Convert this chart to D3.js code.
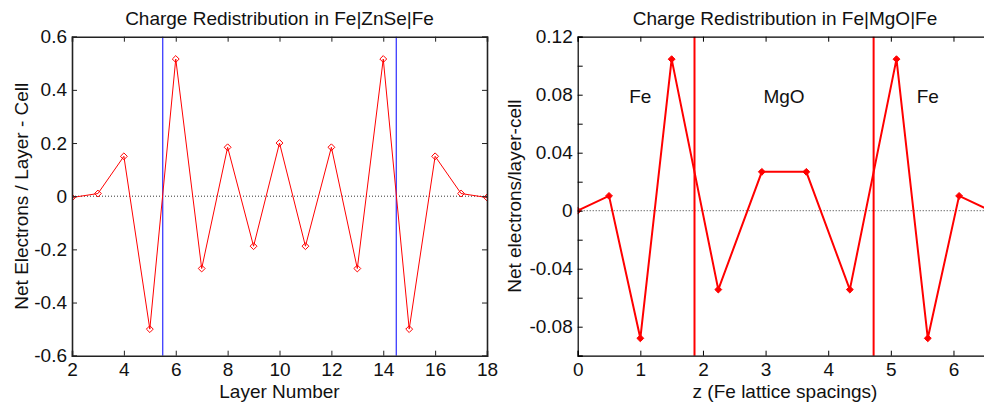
<!DOCTYPE html>
<html>
<head>
<meta charset="utf-8">
<script src="https://cdn.jsdelivr.net/npm/d3@7/dist/d3.min.js"></script>
<style>
  html, body { margin: 0; padding: 0; background: #fff; }
  svg { display: block; font-family: "Liberation Sans", Arial, Helvetica, sans-serif; }
</style>
</head>
<body>
<svg id="chart" width="984" height="406"></svg>
<script>
// Fe|ZnSe|Fe: net charge per atomic layer
const znseLayers = [2, 3, 4, 5, 6, 7, 8, 9, 10, 11, 12, 13, 14, 15, 16, 17, 18];
const znseCharge = [-0.005, 0.01, 0.15, -0.5, 0.516, -0.272, 0.184, -0.188, 0.2, -0.188, 0.184, -0.272, 0.516, -0.5, 0.15, 0.01, -0.005];
const znseInterfaces = [5.5, 14.5];
const znseXTicks = [2, 4, 6, 8, 10, 12, 14, 16, 18];
const znseYTicks = [-0.6, -0.4, -0.2, 0, 0.2, 0.4, 0.6];

// Fe|MgO|Fe: net charge vs. position in Fe lattice spacings
const mgoZ = [0, 0.5, 1.0, 1.5, 2.245, 2.94, 3.65, 4.345, 5.09, 5.59, 6.09, 6.59];
const mgoCharge = [0, 0.0102, -0.088, 0.1045, -0.0544, 0.0268, 0.0268, -0.0544, 0.1045, -0.088, 0.0102, 0];
const mgoInterfaces = [1.865, 4.725];
const mgoXTicks = [0, 1, 2, 3, 4, 5, 6];
const mgoYTicks = [-0.1, -0.08, -0.06, -0.04, -0.02, 0, 0.02, 0.04, 0.06, 0.08, 0.1, 0.12];
const mgoYLabelled = [-0.08, -0.04, 0, 0.04, 0.08, 0.12];
const mgoRegions = ["Fe", "MgO", "Fe"];
const mgoRegionZ = [1.0, 3.295, 5.59];
const mgoRegionY = 0.078;

const svg = d3.select("#chart");
const plotTop = 36.7, plotBottom = 355.7, tickLen = 5;
const fontSize = 19;

function fmt(v) {
  if (Math.abs(v) < 1e-9) return "0";
  return String(+v.toFixed(2));
}

function panel(opt) {
  const x = d3.scaleLinear().domain(opt.xDomain).range([opt.left, opt.right]);
  const y = d3.scaleLinear().domain(opt.yDomain).range([plotBottom, plotTop]);
  const g = svg.append("g");

  // clip region for plotted data
  const clipId = "clip-" + opt.id;
  svg.append("clipPath").attr("id", clipId)
    .append("rect").attr("x", opt.left).attr("y", plotTop)
    .attr("width", opt.right - opt.left).attr("height", plotBottom - plotTop);

  // zero reference line
  g.append("line")
    .attr("x1", opt.left).attr("x2", opt.right)
    .attr("y1", y(0)).attr("y2", y(0))
    .attr("stroke", "#333").attr("stroke-width", 1)
    .attr("stroke-dasharray", "1,2");

  // interface markers
  g.selectAll(".iface").data(opt.interfaces).join("line")
    .attr("x1", d => x(d)).attr("x2", d => x(d))
    .attr("y1", plotTop).attr("y2", plotBottom)
    .attr("stroke", opt.ifaceColor).attr("stroke-width", opt.ifaceWidth);

  // data line
  const pts = opt.xs.map((v, i) => [v, opt.ys[i]]);
  const dg = g.append("g").attr("clip-path", `url(#${clipId})`);
  dg.append("path")
    .datum(pts)
    .attr("fill", "none")
    .attr("stroke", "#ff0000")
    .attr("stroke-width", opt.lineWidth)
    .attr("stroke-linejoin", "miter")
    .attr("d", d3.line().x(d => x(d[0])).y(d => y(d[1])));

  // point markers
  const sym = d3.symbol().type(d3.symbolDiamond2).size(opt.markerSize);
  dg.selectAll(".pt").data(pts).join("path")
    .attr("transform", d => `translate(${x(d[0])},${y(d[1])})`)
    .attr("d", sym)
    .attr("fill", opt.markerFill)
    .attr("stroke", "#ff0000")
    .attr("stroke-width", 1);

  // axes: bottom/left labelled, top/right mirrored, ticks pointing inward
  const bottomAxis = d3.axisBottom(x).tickValues(opt.xTicks).tickSize(-tickLen).tickPadding(7).tickFormat(fmt);
  const topAxis = d3.axisTop(x).tickValues(opt.xTicks).tickSize(-tickLen).tickFormat("");
  const leftAxis = d3.axisLeft(y).tickValues(opt.yTicks).tickSize(-tickLen).tickPadding(5)
    .tickFormat(v => opt.yLabelled.some(l => Math.abs(l - v) < 1e-9) ? fmt(v) : "");
  const rightAxis = d3.axisRight(y).tickValues(opt.yTicks).tickSize(-tickLen).tickFormat("");

  const axes = [
    g.append("g").attr("transform", `translate(0,${plotBottom})`).call(bottomAxis),
    g.append("g").attr("transform", `translate(0,${plotTop})`).call(topAxis),
    g.append("g").attr("transform", `translate(${opt.left},0)`).call(leftAxis),
    g.append("g").attr("transform", `translate(${opt.right},0)`).call(rightAxis)
  ];
  axes.forEach(a => {
    a.select(".domain").attr("stroke", opt.axisColor).attr("stroke-width", opt.axisWidth);
    a.selectAll(".tick line").attr("stroke", opt.axisColor).attr("stroke-width", 1);
    a.selectAll(".tick text").attr("fill", "#111").style("font-size", fontSize + "px")
      .style("font-family", "'Liberation Sans', Arial, sans-serif");
  });

  // title and axis labels
  const cx = (opt.left + opt.right) / 2;
  svg.append("text").attr("x", cx).attr("y", 25)
    .attr("text-anchor", "middle").attr("fill", "#111")
    .style("font-size", "19px").text(opt.title);
  svg.append("text").attr("x", cx).attr("y", 398)
    .attr("text-anchor", "middle").attr("fill", "#111")
    .style("font-size", fontSize + "px").text(opt.xLabel);
  svg.append("text")
    .attr("transform", `translate(${opt.yLabelX},${(plotTop + plotBottom) / 2}) rotate(-90)`)
    .attr("text-anchor", "middle").attr("fill", "#111")
    .style("font-size", fontSize + "px").text(opt.yLabel);

  return { x, y, g };
}

panel({
  id: "znse", left: 72, right: 487,
  xDomain: [2, 18], yDomain: [-0.6, 0.6],
  xs: znseLayers, ys: znseCharge,
  interfaces: znseInterfaces, ifaceColor: "#0000ff", ifaceWidth: 1,
  xTicks: znseXTicks, yTicks: znseYTicks, yLabelled: znseYTicks,
  lineWidth: 1, markerSize: 30, markerFill: "none",
  axisColor: "#222", axisWidth: 1.6,
  title: "Charge Redistribution in Fe|ZnSe|Fe",
  xLabel: "Layer Number",
  yLabel: "Net Electrons / Layer - Cell", yLabelX: 27.5
});

const mgo = panel({
  id: "mgo", left: 577.7, right: 992.3,
  xDomain: [0, 6.62], yDomain: [-0.1, 0.12],
  xs: mgoZ, ys: mgoCharge,
  interfaces: mgoInterfaces, ifaceColor: "#ff0000", ifaceWidth: 2,
  xTicks: mgoXTicks, yTicks: mgoYTicks, yLabelled: mgoYLabelled,
  lineWidth: 2, markerSize: 30, markerFill: "#ff0000",
  axisColor: "#000", axisWidth: 1.2,
  title: "Charge Redistribution in Fe|MgO|Fe",
  xLabel: "z (Fe lattice spacings)",
  yLabel: "Net electrons/layer-cell", yLabelX: 521
});

// region names inside the Fe|MgO|Fe panel
mgo.g.selectAll(".region").data(mgoRegions).join("text")
  .attr("x", (d, i) => mgo.x(mgoRegionZ[i]))
  .attr("y", mgo.y(mgoRegionY))
  .attr("text-anchor", "middle")
  .attr("dominant-baseline", "middle")
  .attr("fill", "#111")
  .style("font-size", fontSize + "px")
  .text(d => d);
</script>
</body>
</html>
